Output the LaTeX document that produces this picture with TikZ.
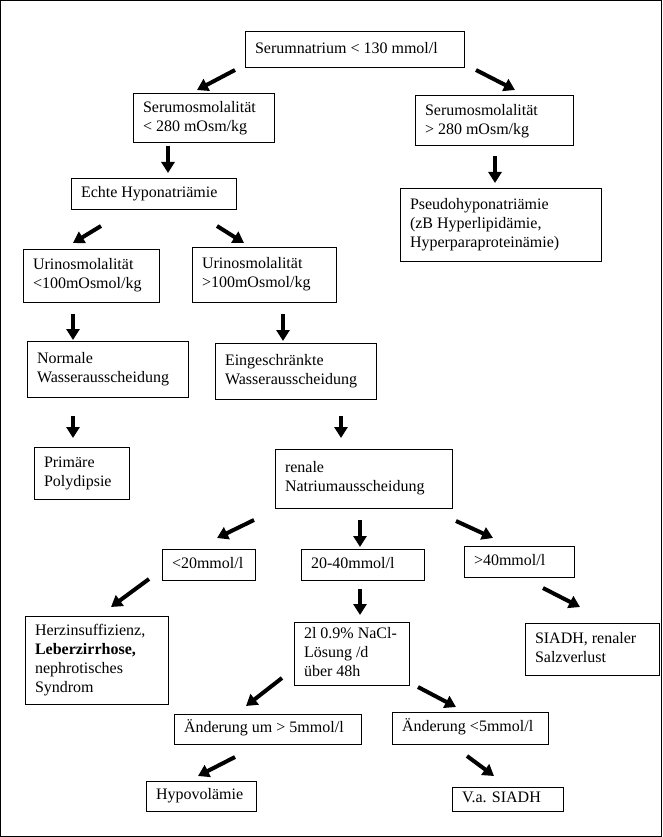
\documentclass[tikz,border=0pt]{standalone}
\usepackage{fontspec}
\setmainfont{Liberation Serif}
\usetikzlibrary{arrows.meta}
\newcommand\boxlines[2]{\makebox[#1][l]{\begin{tabular}{@{}l@{}}#2\end{tabular}}}
\begin{document}
\begin{tikzpicture}[x=1pt,y=-1pt,
  box/.style={draw, line width=1pt, anchor=north west, inner xsep=10pt, inner ysep=0pt, outer sep=0pt, font=\fontsize{16}{19}\selectfont},
  flow/.style={line width=4pt, -{Triangle[length=11pt,width=13pt]}}]
\useasboundingbox (0,0) rectangle (662,837);
\draw[line width=1pt] (0.5,0.5) rectangle (661.5,836.5);

% boxes
\node[box, minimum width=219pt, minimum height=36pt] (natrium) at (245,32) {\boxlines{199pt}{Serumnatrium < 130 mmol/l}};
\node[box, minimum width=141pt, minimum height=49pt] (osmlo) at (133,94) {\boxlines{121pt}{Serumosmolalität\\< 280 mOsm/kg}};
\node[box, minimum width=158pt, minimum height=50pt] (osmhi) at (415,96) {\boxlines{138pt}{Serumosmolalität\\> 280 mOsm/kg}};
\node[box, minimum width=165pt, minimum height=30pt] (echte) at (71,179) {\boxlines{145pt}{Echte Hyponatriämie}};
\node[box, minimum width=201pt, minimum height=73pt] (pseudo) at (400,188) {\boxlines{181pt}{Pseudohyponatriämie\\(zB Hyperlipidämie,\\Hyperparaproteinämie)}};
\node[box, minimum width=136pt, minimum height=53pt] (urinlo) at (23,249) {\boxlines{116pt}{Urinosmolalität\\<100mOsmol/kg}};
\node[box, minimum width=144pt, minimum height=55pt] (urinhi) at (192,247) {\boxlines{124pt}{Urinosmolalität\\>100mOsmol/kg}};
\node[box, minimum width=161pt, minimum height=56pt] (normal) at (27,341) {\boxlines{141pt}{Normale\\Wasserausscheidung}};
\node[box, minimum width=161pt, minimum height=56pt] (einge) at (215,343) {\boxlines{141pt}{Eingeschränkte\\Wasserausscheidung}};
\node[box, minimum width=95pt, minimum height=52pt] (prim) at (34,447) {\boxlines{75pt}{Primäre\\Polydipsie}};
\node[box, minimum width=177pt, minimum height=59pt] (renal) at (275,449) {\boxlines{157pt}{renale\\Natriumausscheidung}};
\node[box, minimum width=93pt, minimum height=31pt] (lt20) at (162,549) {\boxlines{73pt}{<20mmol/l}};
\node[box, minimum width=123pt, minimum height=31pt] (mid) at (301,549) {\boxlines{103pt}{20-40mmol/l}};
\node[box, minimum width=110pt, minimum height=31pt] (gt40) at (464,546) {\boxlines{90pt}{>40mmol/l}};
\node[box, minimum width=143pt, minimum height=88pt] (herz) at (25,616) {\boxlines{123pt}{Herzinsuffizienz,\\\textbf{Leberzirrhose,}\\nephrotisches\\Syndrom}};
\node[box, minimum width=115pt, minimum height=63pt] (nacl) at (294,622) {\boxlines{95pt}{2l 0.9\% NaCl-\\Lösung /d\\über 48h}};
\node[box, minimum width=134pt, minimum height=52pt] (siadh) at (525,623) {\boxlines{114pt}{SIADH, renaler\\Salzverlust}};
\node[box, minimum width=187pt, minimum height=30pt] (aendgt) at (174,714) {\boxlines{167pt}{Änderung um > 5mmol/l}};
\node[box, minimum width=156pt, minimum height=32pt] (aendlt) at (392,712) {\boxlines{136pt}{Änderung <5mmol/l}};
\node[box, minimum width=110pt, minimum height=30pt] (hypo) at (146,781) {\boxlines{90pt}{Hypovolämie}};
\node[box, minimum width=111pt, minimum height=24pt] (vasiadh) at (452,787) {\boxlines{91pt}{V.a. SIADH}};

% arrow end points
\coordinate (a1s) at (235,70);  \coordinate (a1e) at (197,90);
\coordinate (a2s) at (476,70);  \coordinate (a2e) at (515,90);
\coordinate (a3s) at (168,146); \coordinate (a3e) at (168,173);
\coordinate (a4s) at (495,156); \coordinate (a4e) at (495,183);
\coordinate (a5s) at (101,226); \coordinate (a5e) at (73,243);
\coordinate (a6s) at (217,226); \coordinate (a6e) at (244,243);
\coordinate (a7s) at (73,314);  \coordinate (a7e) at (73,340);
\coordinate (a8s) at (283,314); \coordinate (a8e) at (283,341);
\coordinate (a9s) at (73,416);  \coordinate (a9e) at (73,438);
\coordinate (a10s) at (341,416); \coordinate (a10e) at (341,438);
\coordinate (a11s) at (254,520); \coordinate (a11e) at (217,538);
\coordinate (a12s) at (360,520); \coordinate (a12e) at (360,547);
\coordinate (a13s) at (456,521); \coordinate (a13e) at (493,538);
\coordinate (a14s) at (149,579); \coordinate (a14e) at (111,607);
\coordinate (a15s) at (360,589); \coordinate (a15e) at (360,615);
\coordinate (a16s) at (543,588); \coordinate (a16e) at (580,607);
\coordinate (a17s) at (282,678); \coordinate (a17e) at (246,706);
\coordinate (a18s) at (418,687); \coordinate (a18e) at (456,707);
\coordinate (a19s) at (235,757); \coordinate (a19e) at (198,776);
\coordinate (a20s) at (467,756); \coordinate (a20e) at (494,776);

\foreach \i in {1,...,20} {\draw[flow] (a\i s) -- (a\i e);}
\end{tikzpicture}
\end{document}
